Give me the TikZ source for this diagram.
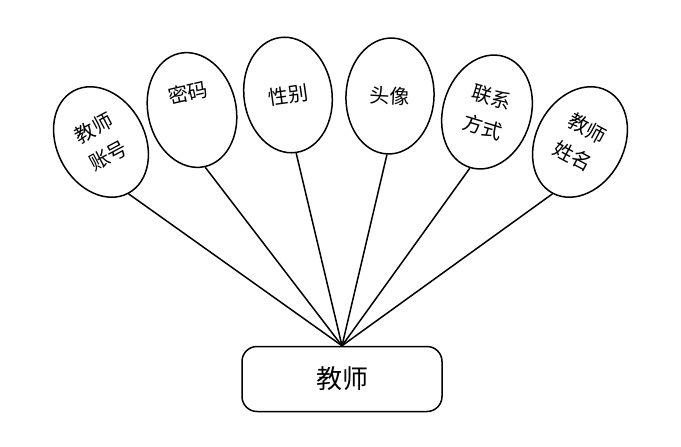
\documentclass[tikz,border=0pt]{standalone}
\usepackage{fontspec}
\newfontfamily\cjk{Noto Sans CJK SC}
\usetikzlibrary{shapes.geometric}
\begin{document}
\begin{tikzpicture}[x=1pt,y=-1pt,
  attr/.style={ellipse,draw,line width=1.5pt,minimum width=88pt,minimum height=116pt,inner sep=0pt,
    font=\cjk\fontsize{20}{31}\selectfont,align=center},
  ent/.style={rectangle,rounded corners=15pt,draw,line width=1.5pt,minimum width=200pt,minimum height=65pt,
    font=\cjk\fontsize{26}{30}\selectfont},
  conn/.style={line width=1.5pt}]
\useasboundingbox (0,0) rectangle (681,447);
\node[ent] (t) at (342,379) {教师};
\node[attr,rotate=28] (e1) at (101,142) {教师\\账号};
\node[attr,rotate=13] (e2) at (192,110) {密码\\[6pt]};
\node[attr,rotate=8] (e3) at (288,95) {性别};
\node[attr,rotate=-3] (e4) at (390,96) {头像};
\node[attr,rotate=-17] (e5) at (487,112) {联系\\方式};
\node[attr,rotate=-28] (e6) at (580,142) {教师\\姓名};
\foreach \e in {e1,e2,e3,e4,e5,e6} \draw[conn] (t.north) -- (\e.south);
\end{tikzpicture}
\end{document}
